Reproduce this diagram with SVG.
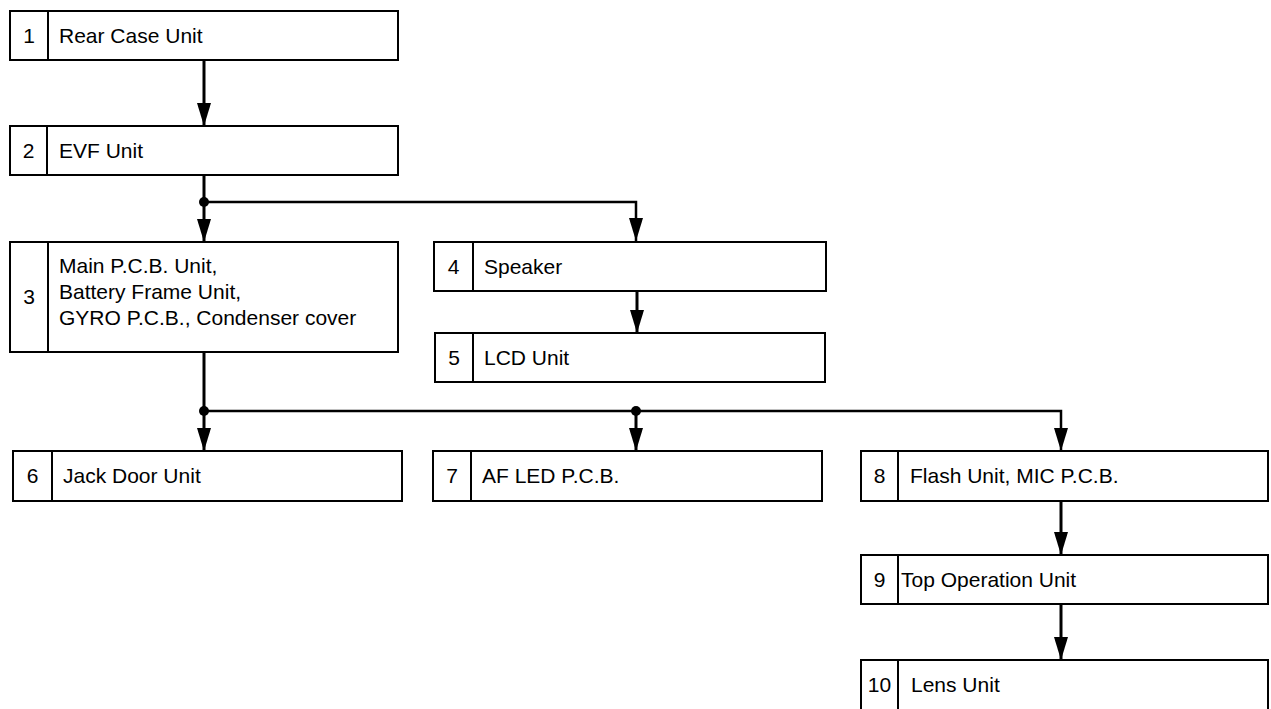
<svg xmlns="http://www.w3.org/2000/svg" width="1271" height="709" viewBox="0 0 1271 709">
<style>
  .box { fill: #fff; stroke: #000; stroke-width: 2; }
  .div { stroke: #000; stroke-width: 2; }
  .num { font-family: "Liberation Sans", Arial, sans-serif; font-size: 21px; fill: #000; text-anchor: middle; }
  .lbl { font-family: "Liberation Sans", Arial, sans-serif; font-size: 21px; fill: #000; }
  .v { stroke: #000; stroke-width: 3; fill: none; }
  .h { stroke: #000; stroke-width: 2.5; fill: none; }
  .dot { fill: #000; }
</style>
<defs>
  <marker id="arr" markerUnits="userSpaceOnUse" markerWidth="23" markerHeight="16" refX="23" refY="8" orient="auto">
    <path d="M0,1 L23,8 L0,15 z" fill="#000"/>
  </marker>
</defs>
<rect width="1271" height="709" fill="#fff"/>

<g id="connectors">
  <line class="v" x1="204" y1="60" x2="204" y2="126" marker-end="url(#arr)"/>
  <line class="v" x1="204" y1="175" x2="204" y2="242" marker-end="url(#arr)"/>
  <polyline class="h" points="204,202 636,202 636,241" marker-end="url(#arr)"/>
  <circle class="dot" cx="204" cy="202" r="5"/>
  <line class="v" x1="637" y1="291" x2="637" y2="333" marker-end="url(#arr)"/>
  <line class="v" x1="204" y1="352" x2="204" y2="451" marker-end="url(#arr)"/>
  <polyline class="h" points="204,411 1061,411 1061,451" marker-end="url(#arr)"/>
  <line class="v" x1="636" y1="411" x2="636" y2="451" marker-end="url(#arr)"/>
  <circle class="dot" cx="204" cy="411" r="5"/>
  <circle class="dot" cx="636" cy="411" r="5"/>
  <line class="v" x1="1061" y1="501" x2="1061" y2="555" marker-end="url(#arr)"/>
  <line class="v" x1="1061" y1="604" x2="1061" y2="660" marker-end="url(#arr)"/>
</g>

<g id="node1">
  <rect class="box" x="10" y="11" width="388" height="49"/>
  <line class="div" x1="48" y1="11" x2="48" y2="60"/>
  <text class="num" x="29" y="43">1</text>
  <text class="lbl" x="59" y="43">Rear Case Unit</text>
</g>
<g id="node2">
  <rect class="box" x="10" y="126" width="388" height="49"/>
  <line class="div" x1="47" y1="126" x2="47" y2="175"/>
  <text class="num" x="28.5" y="158">2</text>
  <text class="lbl" x="59" y="158">EVF Unit</text>
</g>
<g id="node3">
  <rect class="box" x="10" y="242" width="388" height="110"/>
  <line class="div" x1="48" y1="242" x2="48" y2="352"/>
  <text class="num" x="29" y="304">3</text>
  <text class="lbl" x="59" y="273">Main P.C.B. Unit,</text>
  <text class="lbl" x="59" y="299">Battery Frame Unit,</text>
  <text class="lbl" x="59" y="325">GYRO P.C.B., Condenser cover</text>
</g>
<g id="node4">
  <rect class="box" x="434" y="242" width="392" height="49"/>
  <line class="div" x1="473" y1="242" x2="473" y2="291"/>
  <text class="num" x="453.5" y="274">4</text>
  <text class="lbl" x="484" y="274">Speaker</text>
</g>
<g id="node5">
  <rect class="box" x="435" y="333" width="390" height="49"/>
  <line class="div" x1="473" y1="333" x2="473" y2="382"/>
  <text class="num" x="454" y="365">5</text>
  <text class="lbl" x="484" y="365">LCD Unit</text>
</g>
<g id="node6">
  <rect class="box" x="13" y="451" width="389" height="50"/>
  <line class="div" x1="52" y1="451" x2="52" y2="501"/>
  <text class="num" x="32.5" y="483">6</text>
  <text class="lbl" x="63" y="483">Jack Door Unit</text>
</g>
<g id="node7">
  <rect class="box" x="433" y="451" width="389" height="50"/>
  <line class="div" x1="471" y1="451" x2="471" y2="501"/>
  <text class="num" x="452" y="483">7</text>
  <text class="lbl" x="482" y="483">AF LED P.C.B.</text>
</g>
<g id="node8">
  <rect class="box" x="861" y="451" width="407" height="50"/>
  <line class="div" x1="898" y1="451" x2="898" y2="501"/>
  <text class="num" x="879.5" y="483">8</text>
  <text class="lbl" x="910" y="483">Flash Unit, MIC P.C.B.</text>
</g>
<g id="node9">
  <rect class="box" x="861" y="555" width="407" height="49"/>
  <line class="div" x1="898" y1="555" x2="898" y2="604"/>
  <text class="num" x="879.5" y="587">9</text>
  <text class="lbl" x="901" y="587">Top Operation Unit</text>
</g>
<g id="node10">
  <rect class="box" x="861" y="660" width="407" height="52"/>
  <line class="div" x1="898" y1="660" x2="898" y2="712"/>
  <text class="num" x="879.5" y="692">10</text>
  <text class="lbl" x="911" y="692">Lens Unit</text>
</g>
</svg>
